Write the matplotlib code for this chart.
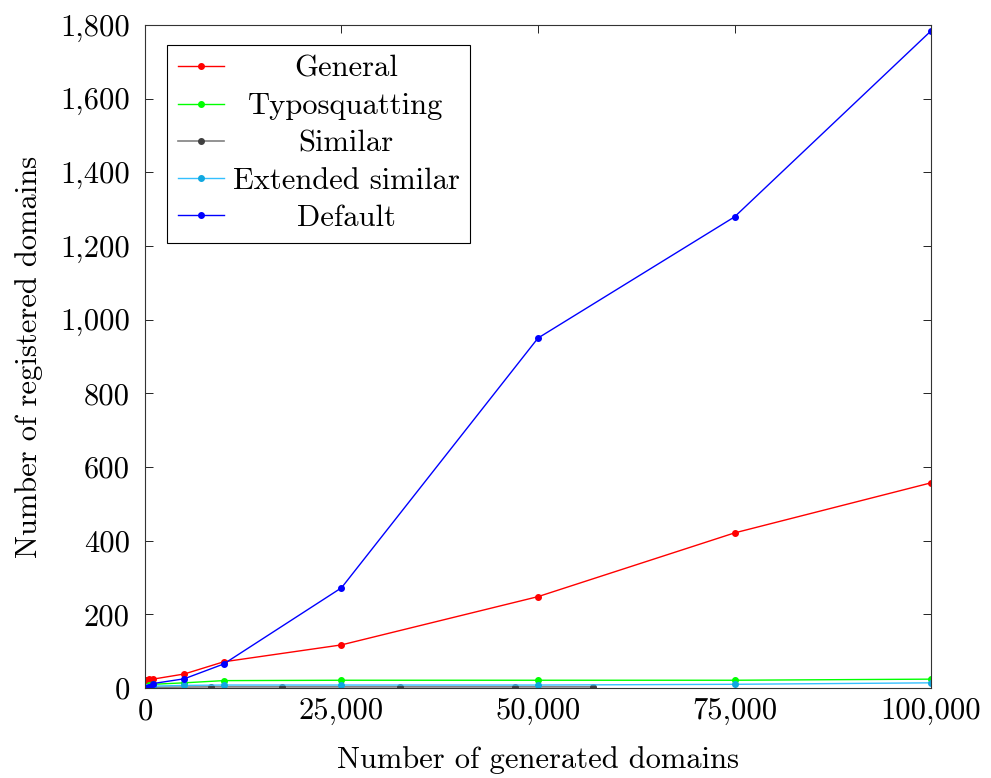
import matplotlib
matplotlib.use("Agg")
import matplotlib.pyplot as plt
from matplotlib.ticker import FuncFormatter

plt.rcParams['font.family'] = ['cmr10', 'DejaVu Serif']
plt.rcParams['axes.formatter.use_mathtext'] = True
plt.rcParams['font.size'] = 22

# generated domains (x) and registered domains (y)
x_full = [100, 500, 1000, 5000, 10000, 25000, 50000, 75000, 100000]
general = [22, 24, 24, 38, 71, 117, 248, 421, 557]
typosquatting = [4, 8, 10, 14, 20, 21, 21, 21, 24]
x_similar = [100, 500, 1000, 8400, 17400, 32500, 47100, 57000]
similar = [1, 2, 2, 3, 3, 3, 3, 3]
extended = [2, 4, 5, 7, 8, 8, 8, 10, 14]
default = [1, 4, 12, 25, 65, 272, 950, 1279, 1784]

xticks = [0, 25000, 50000, 75000, 100000]
yticks = [0, 200, 400, 600, 800, 1000, 1200, 1400, 1600, 1800]

fig = plt.figure(figsize=(9.91, 7.78), dpi=100)
ax = fig.add_axes([0.1463, 0.1157, 0.7932, 0.8522])

ms = 4
ax.plot(x_full, general, color='#ff0000', marker='o', ms=ms, lw=1, label='General')
ax.plot(x_full, typosquatting, color='#00ff00', marker='o', ms=ms, lw=1, label='Typosquatting')
ax.plot(x_similar, similar, color='#808080', marker='o', ms=ms, lw=1.2,
        mfc='#404040', mec='#404040', label='Similar')
ax.plot(x_full, extended, color='#33c0ff', marker='o', ms=ms, lw=1,
        mfc='#10a8e0', mec='#10a8e0', label='Extended similar')
ax.plot(x_full, default, color='#0000ff', marker='o', ms=ms, lw=1, label='Default')

ax.set_xlim(0, 100000)
ax.set_ylim(0, 1800)
ax.set_xticks(xticks)
ax.set_yticks(yticks)
fmt = FuncFormatter(lambda v, p: '{:,}'.format(int(v)))
ax.xaxis.set_major_formatter(fmt)
ax.yaxis.set_major_formatter(fmt)
ax.tick_params(direction='in', length=6, width=0.6, top=True, right=True, labelsize=22)
ax.tick_params(axis='x', pad=7)
ax.tick_params(axis='y', pad=11)
for s in ax.spines.values():
    s.set_linewidth(0.8)
    s.set_color('#333333')

ax.set_xlabel('Number of generated domains', fontsize=22, labelpad=15)
ax.set_ylabel('Number of registered domains', fontsize=22, labelpad=12)

leg = ax.legend(loc='upper left', bbox_to_anchor=(0.028, 0.970), fontsize=22,
                fancybox=False, edgecolor='black', framealpha=1,
                handlelength=1.5, handletextpad=0.3, borderpad=0.35,
                borderaxespad=0, labelspacing=0.32)
leg.get_frame().set_linewidth(0.8)

# centre the legend texts like pgfplots does
fig.canvas.draw()
r = fig.canvas.get_renderer()
widths = [t.get_window_extent(r).width for t in leg.get_texts()]
wmax = max(widths)
for t, w in zip(leg.get_texts(), widths):
    t.set_x((wmax - w) / 2)

fig.savefig('out.png', dpi=100)
